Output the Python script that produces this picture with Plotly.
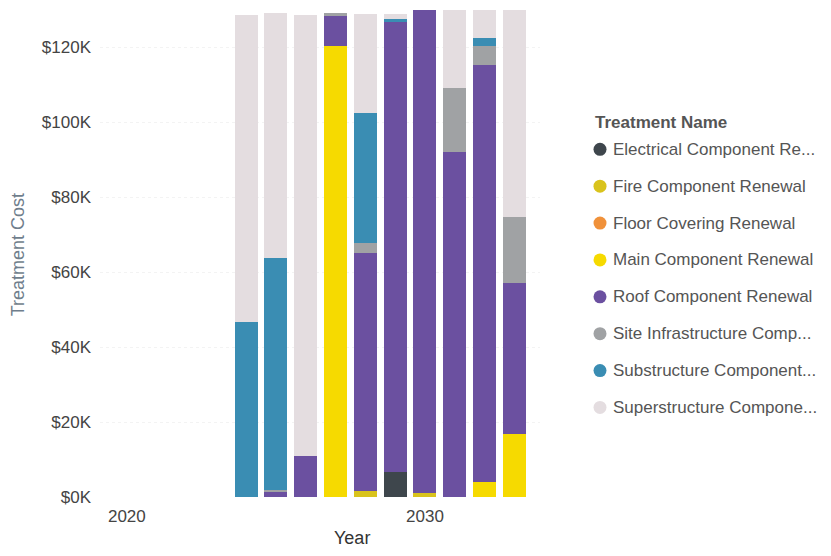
import plotly.graph_objects as go

# Treatment cost by year, stacked by treatment type (values in dollars)
years = [2024, 2025, 2026, 2027, 2028, 2029, 2030, 2031, 2032, 2033]

treatment_names = [
    "Electrical Component Renewal",
    "Fire Component Renewal",
    "Floor Covering Renewal",
    "Main Component Renewal",
    "Roof Component Renewal",
    "Site Infrastructure Component Renewal",
    "Substructure Component Renewal",
    "Superstructure Component Renewal",
]

# legend labels as shown (long names clipped to the legend width)
legend_labels = [
    "Electrical Component Re...",
    "Fire Component Renewal",
    "Floor Covering Renewal",
    "Main Component Renewal",
    "Roof Component Renewal",
    "Site Infrastructure Comp...",
    "Substructure Component...",
    "Superstructure Compone...",
]

electrical = [0, 0, 0, 0, 0, 6700, 0, 0, 0, 0]
fire = [0, 0, 0, 0, 1500, 0, 1000, 0, 0, 0]
floor_covering = [0, 0, 0, 0, 0, 0, 0, 0, 0, 0]
main_component = [0, 0, 0, 120500, 0, 0, 0, 0, 4000, 16800]
roof = [0, 1300, 10900, 8000, 63600, 120000, 128900, 92000, 111200, 40300]
site_infrastructure = [0, 700, 0, 800, 2600, 0, 0, 17300, 5300, 17600]
substructure = [46700, 61700, 0, 0, 34700, 1000, 0, 0, 1900, 0]
superstructure = [82100, 65600, 117900, 0, 26600, 1300, 0, 20600, 7500, 55200]

series_values = [electrical, fire, floor_covering, main_component, roof,
                 site_infrastructure, substructure, superstructure]

colors = ["#3E464C", "#D9C31C", "#F0913A", "#F6DA00", "#6B50A0",
          "#A0A2A4", "#3A8DB3", "#E4DDE0"]

y_ticks = [0, 20000, 40000, 60000, 80000, 100000, 120000]
x_ticks = [2020, 2030]

FONT = "Liberation Sans, Arial, sans-serif"

# plot-area geometry (pixels)
W, H = 831, 556
ML, MR, MT, MB = 100, 291, 9.5, 59
PW = W - ML - MR
PH = H - MT - MB

fig = go.Figure()
for name, vals, col in zip(treatment_names, series_values, colors):
    fig.add_trace(go.Bar(
        x=years, y=vals, name=name, marker_color=col,
        marker_line_width=0, width=0.77, showlegend=False,
        hovertemplate="%{x}: $%{y:,.0f}<extra>" + name + "</extra>",
    ))


def px_x(px):
    return (px - ML) / PW


def px_y(py):
    return (H - MB - py) / PH


annotations = []
shapes = []

# legend block: title plus one circle marker and label per treatment
annotations.append(dict(
    x=px_x(593), y=px_y(122), xref="paper", yref="paper",
    xanchor="left", yanchor="middle", showarrow=False,
    text="<b>Treatment Name</b>",
    font=dict(family=FONT, size=17, color="#555555"),
))
for i, (label, col) in enumerate(zip(legend_labels, colors)):
    cy = 149 + i * 36.9
    shapes.append(dict(
        type="circle", xref="paper", yref="paper",
        xsizemode="pixel", ysizemode="pixel",
        xanchor=px_x(600), yanchor=px_y(cy),
        x0=-6.5, x1=6.5, y0=-6.5, y1=6.5,
        fillcolor=col, line=dict(width=0),
    ))
    annotations.append(dict(
        x=px_x(611), y=px_y(cy), xref="paper", yref="paper",
        xanchor="left", yanchor="middle", showarrow=False,
        text=label,
        font=dict(family=FONT, size=17, color="#555555"),
    ))

# axis titles
annotations.append(dict(
    x=px_x(352), y=px_y(538), xref="paper", yref="paper",
    xanchor="center", yanchor="middle", showarrow=False,
    text="Year",
    font=dict(family=FONT, size=18, color="#333333"),
))
annotations.append(dict(
    x=px_x(18), y=px_y(255), xref="paper", yref="paper",
    xanchor="center", yanchor="middle", showarrow=False, textangle=-90,
    text="Treatment Cost",
    font=dict(family=FONT, size=18, color="#6F7E8C"),
))

fig.update_layout(
    barmode="stack",
    width=W, height=H,
    margin=dict(l=ML, r=MR, t=MT, b=MB, pad=0),
    paper_bgcolor="white", plot_bgcolor="white",
    font=dict(family=FONT, size=17, color="#444444"),
    showlegend=False,
    annotations=annotations,
    shapes=shapes,
)
fig.update_xaxes(
    range=[2019.1, 2033.86], tickvals=x_ticks,
    ticktext=[str(v) for v in x_ticks],
    showgrid=False, zeroline=False, showline=False, ticks="",
    ticklabelstandoff=7,
    tickfont=dict(size=17, color="#444444"),
)
fig.update_yaxes(
    range=[0, 130000], tickvals=y_ticks,
    ticktext=["$" + str(v // 1000) + "K" for v in y_ticks],
    showgrid=True, gridcolor="#F3F3F3", griddash="dot", gridwidth=1,
    zeroline=False, showline=False, ticks="",
    ticklabelstandoff=8,
    tickfont=dict(size=17, color="#444444"),
)

fig.write_html("out.html")
